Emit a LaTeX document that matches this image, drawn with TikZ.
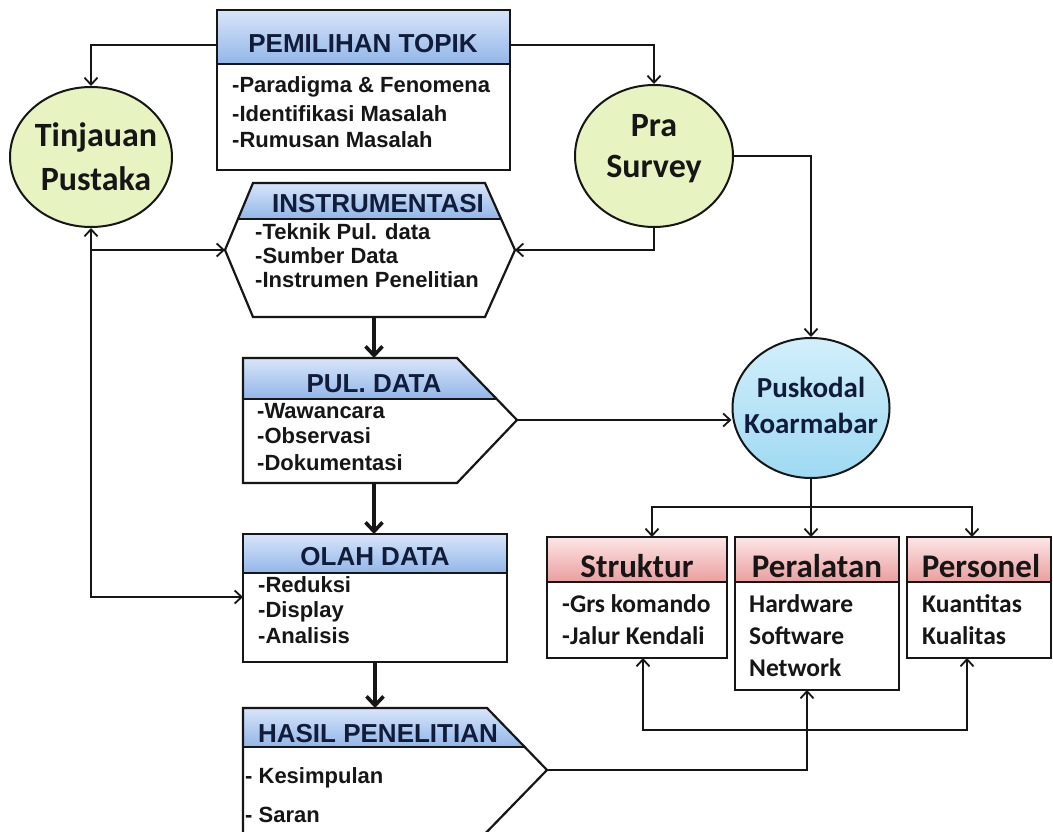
\documentclass[tikz,border=0pt]{standalone}
\usepackage{fontspec}
\setmainfont{Liberation Sans}
\newfontfamily\calfont{Carlito}
\usetikzlibrary{arrows.meta,shapes.geometric}

\definecolor{hdrtop}{RGB}{216,229,250}
\definecolor{hdrbot}{RGB}{146,182,232}
\definecolor{pnktop}{RGB}{252,230,230}
\definecolor{pnkbot}{RGB}{234,158,158}
\definecolor{grnfill}{RGB}{232,243,194}
\definecolor{cyntop}{RGB}{210,239,251}
\definecolor{cynbot}{RGB}{158,217,242}
\definecolor{navy}{RGB}{16,28,58}
\definecolor{ink}{RGB}{22,22,22}

\begin{document}
\begin{tikzpicture}[x=1pt,y=-1pt,
  frame/.style={draw=ink,line width=2.2pt,line join=miter},
  hdrshade/.style={top color=hdrtop,bottom color=hdrbot},
  pnkshade/.style={top color=pnktop,bottom color=pnkbot},
  conn/.style={draw=ink,line width=1.8pt,-{Straight Barb[length=7pt,width=13pt]}},
  twoway/.style={draw=ink,line width=1.8pt,{Straight Barb[length=7pt,width=13pt]}-{Straight Barb[length=7pt,width=13pt]}},
  flow/.style={draw=ink,line width=3.6pt,-{Straight Barb[length=9pt,width=17pt]}},
  bubble/.style={ellipse,draw=ink,line width=2pt,inner sep=0pt},
  hdr/.style={font=\fontsize{26}{31}\selectfont\bfseries,text=navy,inner sep=0pt,anchor=base},
  body/.style={font=\fontsize{22}{26}\selectfont\bfseries,text=ink,inner sep=0pt,anchor=base west},
  bubtxt/.style={font=\calfont\fontsize{34}{40}\selectfont\bfseries,text=ink,inner sep=0pt,anchor=base},
  pktxt/.style={font=\calfont\fontsize{29}{34}\selectfont\bfseries,text=navy,inner sep=0pt,anchor=base},
  rhdr/.style={font=\calfont\fontsize{33}{38}\selectfont\bfseries,text=ink,inner sep=0pt,anchor=base},
  rbody/.style={font=\calfont\fontsize{25.5}{30}\selectfont\bfseries,text=ink,inner sep=0pt,anchor=base west}]
\useasboundingbox[fill=white] (0,0) rectangle (1053,832);

% ---------- PEMILIHAN TOPIK ----------
\coordinate (pt-nw) at (217,10);
\coordinate (pt-se) at (510,170);
\coordinate (pt-w) at (217,45);
\coordinate (pt-e) at (510,45);
\fill[white] (pt-nw) rectangle (pt-se);
\shade[hdrshade] (217,10) rectangle (510,64);
\draw[frame] (217,64) -- (510,64);
\draw[frame] (pt-nw) rectangle (pt-se);

% ---------- INSTRUMENTASI (hexagon) ----------
\coordinate (in-nw) at (253,183);
\coordinate (in-ne) at (485,183);
\coordinate (in-e) at (515,250);
\coordinate (in-se) at (485,317);
\coordinate (in-sw) at (253,317);
\coordinate (in-w) at (225,250);
\coordinate (in-s) at (374,317);
\fill[white] (in-nw) -- (in-ne) -- (in-e) -- (in-se) -- (in-sw) -- (in-w) -- cycle;
\shade[hdrshade] (in-nw) -- (in-ne) -- (501,219) -- (238,219) -- cycle;
\draw[frame] (238,219) -- (501,219);
\draw[frame] (in-nw) -- (in-ne) -- (in-e) -- (in-se) -- (in-sw) -- (in-w) -- cycle;

% ---------- PUL. DATA ----------
\coordinate (pd-nw) at (243,358);
\coordinate (pd-ne) at (457,358);
\coordinate (pd-tip) at (517,420);
\coordinate (pd-se) at (457,483);
\coordinate (pd-sw) at (243,483);
\coordinate (pd-n) at (374,358);
\coordinate (pd-s) at (374,483);
\fill[white] (pd-nw) -- (pd-ne) -- (pd-tip) -- (pd-se) -- (pd-sw) -- cycle;
\shade[hdrshade] (pd-nw) -- (pd-ne) -- (497,399) -- (243,399) -- cycle;
\draw[frame] (243,399) -- (497,399);
\draw[frame] (pd-nw) -- (pd-ne) -- (pd-tip) -- (pd-se) -- (pd-sw) -- cycle;

% ---------- OLAH DATA ----------
\coordinate (od-nw) at (243,534);
\coordinate (od-se) at (507,662);
\coordinate (od-w) at (243,597);
\coordinate (od-n) at (374,534);
\coordinate (od-s) at (375,662);
\fill[white] (od-nw) rectangle (od-se);
\shade[hdrshade] (243,534) rectangle (507,573);
\draw[frame] (243,573) -- (507,573);
\draw[frame] (od-nw) rectangle (od-se);

% ---------- HASIL PENELITIAN ----------
\coordinate (hp-nw) at (243,708);
\coordinate (hp-ne) at (487,708);
\coordinate (hp-tip) at (547,770);
\coordinate (hp-se) at (479,840);
\coordinate (hp-sw) at (243,840);
\coordinate (hp-n) at (375,708);
\fill[white] (hp-nw) -- (hp-ne) -- (hp-tip) -- (hp-se) -- (hp-sw) -- cycle;
\shade[hdrshade] (hp-nw) -- (hp-ne) -- (525,747) -- (243,747) -- cycle;
\draw[frame] (243,747) -- (525,747);
\draw[frame] (hp-nw) -- (hp-ne) -- (hp-tip) -- (hp-se) -- (hp-sw) -- cycle;

% ---------- right-hand boxes ----------
\coordinate (st-nw) at (547,537);
\coordinate (st-se) at (727,658);
\coordinate (st-n) at (652,537);
\coordinate (st-s) at (643,658);
\coordinate (pe-nw) at (735,537);
\coordinate (pe-se) at (899,690);
\coordinate (pe-n) at (811,537);
\coordinate (pe-s) at (807,690);
\coordinate (ps-nw) at (907,537);
\coordinate (ps-se) at (1051,658);
\coordinate (ps-n) at (972,537);
\coordinate (ps-s) at (967,658);
\foreach \a/\b in {st-nw/st-se,pe-nw/pe-se,ps-nw/ps-se}{
  \fill[white] (\a) rectangle (\b);
  \shade[pnkshade] (\a) rectangle (\b |- 0,582);
  \draw[frame,line width=2pt] (\a |- 0,582) -- (\b |- 0,582);
  \draw[frame,line width=2pt] (\a) rectangle (\b);
}

% ---------- bubbles ----------
\node[bubble,fill=grnfill,minimum width=162pt,minimum height=140pt] (tinjauan) at (91,157) {};
\node[bubble,fill=grnfill,minimum width=158pt,minimum height=142pt] (pra) at (654,156) {};
\node[bubble,top color=cyntop,bottom color=cynbot,minimum width=157pt,minimum height=140pt] (pusk) at (811,408) {};

% ---------- connectors ----------
\coordinate (bus) at (811,507);
\coordinate (lowrow) at (0,730);
\draw[conn] (pt-w) -| (tinjauan.north);
\draw[conn] (pt-e) -| (pra.north);
\draw[conn] (pra.east) -| (pusk.north);
\draw[conn] (pra.south) |- (in-e);
\draw[twoway] (tinjauan.south) |- (od-w);
\draw[conn] (tinjauan.south |- in-w) -- (in-w);
\draw[conn] (pd-tip) -- (pd-tip -| pusk.west);
\draw[draw=ink,line width=1.8pt] (pusk.south) -- (bus);
\draw[conn] (bus) -| (st-n);
\draw[conn] (bus) -- (pe-n);
\draw[conn] (bus) -| (ps-n);
\draw[twoway] (st-s) -- (st-s |- lowrow) -| (ps-s);
\draw[conn] (hp-tip) -| (pe-s);
\draw[flow] (in-s) -- (pd-n);
\draw[flow] (pd-s) -- (od-n);
\draw[flow] (od-s) -- (hp-n);

% ---------- texts ----------
\node[hdr] (t-pt) at (363,53) {PEMILIHAN TOPIK};
\node[body] (t-pt1) at (232,93) {-Paradigma \& Fenomena};
\node[body] (t-pt2) at (232,122) {-Identifikasi Masalah};
\node[body] (t-pt3) at (232,148) {-Rumusan Masalah};

\node[hdr] (t-in) at (378,213) {INSTRUMENTASI};
\node[body] (t-in1) at (255,240) {-Teknik Pul. data};
\node[body] (t-in2) at (255,263) {-Sumber Data};
\node[body] (t-in3) at (255,287) {-Instrumen Penelitian};

\node[hdr] (t-pd) at (374,392) {PUL. DATA};
\node[body] (t-pd1) at (257,418) {-Wawancara};
\node[body] (t-pd2) at (257,443) {-Observasi};
\node[body] (t-pd3) at (257,470) {-Dokumentasi};

\node[hdr] (t-od) at (375,565) {OLAH DATA};
\node[body] (t-od1) at (258,592) {-Reduksi};
\node[body] (t-od2) at (258,617) {-Display};
\node[body] (t-od3) at (258,643) {-Analisis};

\node[hdr] (t-hp) at (378,742) {HASIL PENELITIAN};
\node[body] (t-hp1) at (245,783) {- Kesimpulan};
\node[body] (t-hp2) at (245,822) {- Saran};

\node[bubtxt] (t-tp1) at (96,147) {Tinjauan};
\node[bubtxt] (t-tp2) at (96,190) {Pustaka};
\node[bubtxt] (t-ps1) at (654,137) {Pra};
\node[bubtxt] (t-ps2) at (654,178) {Survey};
\node[pktxt] (t-pk1) at (811,397) {Puskodal};
\node[pktxt] (t-pk2) at (811,433) {Koarmabar};

\node[rhdr] (t-st) at (637,577) {Struktur};
\node[rbody] (t-st1) at (562,612) {-Grs komando};
\node[rbody] (t-st2) at (562,644) {-Jalur Kendali};
\node[rhdr] (t-pe) at (817,577) {Peralatan};
\node[rbody] (t-pe1) at (749,612) {Hardware};
\node[rbody] (t-pe2) at (749,644) {Software};
\node[rbody] (t-pe3) at (749,676) {Network};
\node[rhdr] (t-ps) at (981,577) {Personel};
\node[rbody] (t-ps1) at (922,612) {Kuantitas};
\node[rbody] (t-ps2) at (922,644) {Kualitas};
\end{tikzpicture}
\end{document}
